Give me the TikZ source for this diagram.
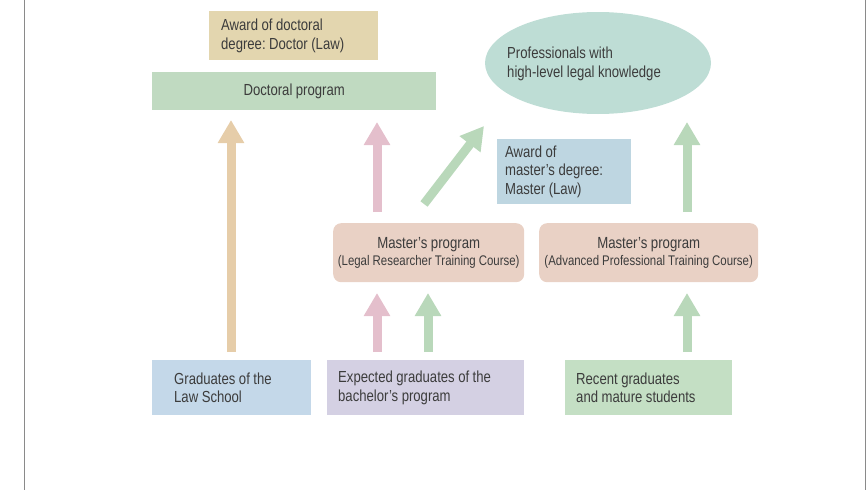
\documentclass[tikz,border=0pt]{standalone}
\usepackage{fontspec}
\setmainfont{Liberation Sans}[FakeStretch=0.82]
\usetikzlibrary{arrows.meta,shapes.geometric}
\definecolor{txt}{HTML}{3C3C3C}
\definecolor{tanbox}{HTML}{E3D6AF}
\definecolor{greenbox}{HTML}{C0DAC1}
\definecolor{ellfill}{HTML}{BEDDD5}
\definecolor{bluebox}{HTML}{BED6E1}
\definecolor{masterbox}{HTML}{E9D1C5}
\definecolor{gradbox}{HTML}{C4D8E9}
\definecolor{expbox}{HTML}{D4D0E3}
\definecolor{recbox}{HTML}{C4DFC4}
\definecolor{tanarrow}{HTML}{E6CDA9}
\definecolor{pinkarrow}{HTML}{E4BFCC}
\definecolor{greenarrow}{HTML}{B9D8BA}
\definecolor{frame}{HTML}{8A8A8A}
\newcommand{\tightspace}{\frenchspacing\spaceskip=0.22em\xspaceskip=0.22em\relax}
\tikzset{
  box/.style={draw=none, anchor=north west, inner ysep=0pt, align=flush left, text=txt, font=\fontsize{16}{18.5}\selectfont\tightspace},
  mbox/.style={draw=none, rounded corners=8pt, fill=masterbox, anchor=north west, inner sep=0pt, align=center, text=txt},
  bigarrow/.style={line width=9pt, -{Triangle[width=25pt,length=23pt]}},
}
\begin{document}
\begin{tikzpicture}[x=1pt,y=-1pt]
\useasboundingbox (0,0) rectangle (868,490);
\draw[frame, line width=1pt] (24,0) -- (24,490);
\draw[frame, line width=1pt] (865,0) -- (865,490);

% top boxes
\node[box, fill=tanbox, minimum width=169pt, minimum height=49pt, inner xsep=12pt, text width=145pt] (award) at (209,11) {Award of doctoral\\degree: Doctor (Law)};
\node[box, fill=greenbox, minimum width=284pt, minimum height=38pt, align=flush center, text width=284pt, inner xsep=0pt] (doct) at (152,72) {Doctoral program};
\node[draw=none, ellipse, fill=ellfill, minimum width=226pt, minimum height=102pt, inner sep=0pt] (prof) at (598,63) {};
\node[box, anchor=west, inner xsep=0pt, align=left] (proftext) at (507,64) {Professionals with\\high-level legal knowledge};
\node[box, fill=bluebox, minimum width=134pt, minimum height=65pt, inner xsep=8pt, text width=118pt] (maward) at (497,139) {Award of\\master’s degree:\\Master (Law)};

% master boxes
\node[mbox, minimum width=191pt, minimum height=59pt] (m1) at (333,223) {\fontsize{16.1}{18}\selectfont\tightspace Master’s program\\[3pt]\fontsize{13.95}{16}\selectfont\tightspace (Legal Researcher Training Course)};
\node[mbox, minimum width=219pt, minimum height=59pt] (m2) at (539,223) {\fontsize{16.1}{18}\selectfont\tightspace Master’s program\\[3pt]\fontsize{13.95}{16}\selectfont\tightspace (Advanced Professional Training Course)};

% bottom boxes
\node[box, fill=gradbox, minimum width=159pt, minimum height=55pt, inner xsep=22pt, text width=115pt] (grad) at (152,360) {Graduates of the\\Law School};
\node[box, fill=expbox, minimum width=197pt, minimum height=55pt, inner xsep=11pt, text width=175pt] (exp) at (327,360) {Expected graduates of the\\bachelor’s program};
\node[box, fill=recbox, minimum width=167pt, minimum height=55pt, inner xsep=11pt, text width=145pt] (rec) at (565,360) {Recent graduates\\and mature students};

% arrow end points
\coordinate (t1) at (231,352); \coordinate (t2) at (231,120);
\coordinate (p1) at (377,212); \coordinate (p2) at (377,122);
\coordinate (d1) at (424,204); \coordinate (d2) at (484,126);
\coordinate (g1) at (687,212); \coordinate (g2) at (687,122);
\coordinate (pb1) at (377,352); \coordinate (pb2) at (377,293);
\coordinate (gb1) at (428,352); \coordinate (gb2) at (428,293);
\coordinate (rb1) at (687,352); \coordinate (rb2) at (687,293);

\draw[bigarrow, tanarrow] (t1) -- (t2);
\draw[bigarrow, pinkarrow] (p1) -- (p2);
\draw[bigarrow, greenarrow] (d1) -- (d2);
\draw[bigarrow, greenarrow] (g1) -- (g2);
\draw[bigarrow, pinkarrow] (pb1) -- (pb2);
\draw[bigarrow, greenarrow] (gb1) -- (gb2);
\draw[bigarrow, greenarrow] (rb1) -- (rb2);
\end{tikzpicture}
\end{document}
